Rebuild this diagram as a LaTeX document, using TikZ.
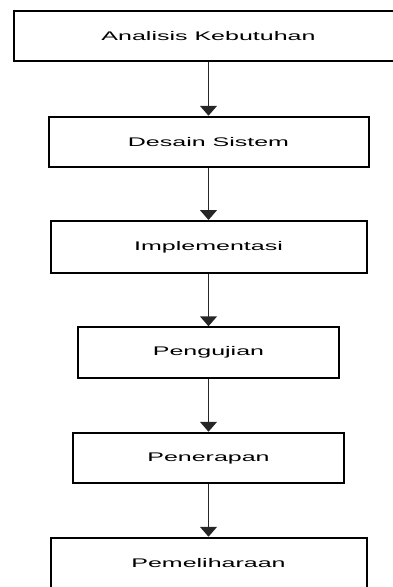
\documentclass[tikz,border=0pt]{standalone}
\usepackage{fontspec}
\setmainfont{Liberation Sans}
\usetikzlibrary{arrows.meta}
\tikzset{
    stagebox/.style={draw=black, line width=2pt, minimum height=50.5pt, inner sep=0pt,
        font=\fontsize{12.5}{14}\selectfont},
    flowarrow/.style={draw=black!85, line width=1.5pt, -{Triangle[width=17pt,length=10pt]}}
}
\newcommand{\widetext}[1]{\scalebox{2}[1]{#1}}

\begin{document}
\begin{tikzpicture}[x=1pt, y=1pt]
		\useasboundingbox (0,0) rectangle (393,-587);
		\clip (0,0) rectangle (393,-587);
		% tahapan
		\node[stagebox, minimum width=390pt] (analisis) at (208.5,-36) {\widetext{Analisis Kebutuhan}};
		\node[stagebox, minimum width=320pt] (desain) at (208.5,-142) {\widetext{Desain Sistem}};
		\node[stagebox, minimum width=316pt, minimum height=52pt] (implementasi) at (208.5,-247) {\widetext{Implementasi}};
		\node[stagebox, minimum width=261pt] (pengujian) at (208.5,-352.5) {\widetext{Pengujian}};
		\node[stagebox, minimum width=271pt] (penerapan) at (208.5,-458) {\widetext{Penerapan}};
		\node[stagebox, minimum width=316pt] (pemeliharaan) at (208.5,-563) {\widetext{Pemeliharaan}};
		% alur
		\draw[flowarrow] (analisis) -- (desain);
		\draw[flowarrow] (desain) -- (implementasi);
		\draw[flowarrow] (implementasi) -- (pengujian);
		\draw[flowarrow] (pengujian) -- (penerapan);
		\draw[flowarrow] (penerapan) -- (pemeliharaan);
\end{tikzpicture}
\end{document}
